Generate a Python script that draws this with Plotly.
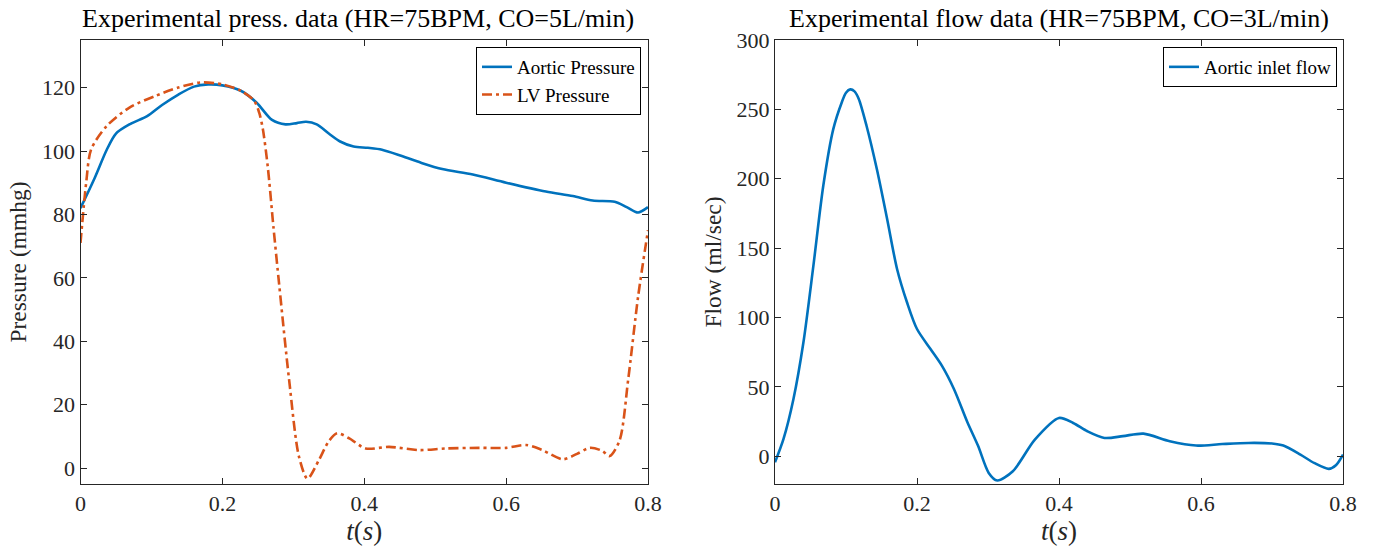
import plotly.graph_objects as go

# ── data ───────────────────────────────────────────────────────────────────────

t_aortic = [0.000, 0.020, 0.037, 0.050, 0.070, 0.094, 0.115, 0.138, 0.160, 0.180,
            0.200, 0.226, 0.248, 0.270, 0.289, 0.305, 0.318, 0.333, 0.350, 0.366,
            0.385, 0.405, 0.425, 0.453, 0.480, 0.510, 0.553, 0.600, 0.656, 0.694,
            0.722, 0.753, 0.770, 0.786, 0.800]
p_aortic = [82.0, 91.5, 100.4, 105.5, 108.5, 111.0, 114.5, 117.8, 120.3, 121.0,
            120.7, 119.0, 115.3, 109.8, 108.4, 108.8, 109.2, 108.4, 105.5, 103.0,
            101.4, 101.0, 100.4, 98.4, 96.3, 94.3, 92.6, 90.0, 87.2, 85.8,
            84.4, 84.0, 82.3, 80.6, 82.3]

t_lv = [0.000, 0.008, 0.015, 0.037, 0.069, 0.106, 0.138, 0.169, 0.200, 0.226,
        0.245, 0.252, 0.257, 0.264, 0.272, 0.280, 0.294, 0.308, 0.320, 0.336,
        0.350, 0.362, 0.379, 0.402, 0.435, 0.478, 0.515, 0.562, 0.600, 0.628,
        0.650, 0.680, 0.700, 0.718, 0.735, 0.746, 0.760, 0.772, 0.786, 0.800]
p_lv = [71.0, 90.0, 100.5, 107.9, 113.7, 117.4, 120.0, 121.6, 121.0, 119.0,
        115.8, 112.0, 107.0, 95.0, 76.0, 58.0, 28.0, 3.6, -3.3, 2.5,
        8.5, 11.0, 9.4, 6.2, 6.7, 5.7, 6.2, 6.4, 6.4, 7.3,
        5.8, 2.8, 4.5, 6.4, 5.5, 3.8, 8.8, 27.8, 54.0, 75.0]

t_flow = [0.000, 0.012, 0.026, 0.040, 0.054, 0.068, 0.082, 0.094, 0.100, 0.106,
          0.112, 0.118, 0.129, 0.1435, 0.158, 0.172, 0.186, 0.200, 0.219, 0.235,
          0.252, 0.271, 0.286, 0.301, 0.313, 0.335, 0.366, 0.400, 0.420, 0.440,
          0.464, 0.490, 0.519, 0.556, 0.593, 0.630, 0.667, 0.700, 0.716, 0.740,
          0.760, 0.780, 0.790, 0.800]
q_flow = [-4.3, 12.5, 41.3, 82.0, 137.0, 195.0, 235.6, 255.0, 262.0, 264.4,
          263.0, 257.5, 238.0, 206.8, 170.8, 134.8, 110.8, 91.7, 77.3, 65.3,
          48.5, 24.5, 7.5, -12.0, -17.5, -10.8, 12.0, 27.6, 24.0, 18.0,
          13.2, 14.5, 16.3, 10.8, 7.7, 8.8, 9.6, 9.2, 7.7, 1.2,
          -5.0, -9.1, -6.5, 1.2]

x_ticks = [0, 0.2, 0.4, 0.6, 0.8]
x_labels = ["0", "0.2", "0.4", "0.6", "0.8"]
p_ticks = [0, 20, 40, 60, 80, 100, 120]
q_ticks = [0, 50, 100, 150, 200, 250, 300]

# ── styling ────────────────────────────────────────────────────────────────────

W, H = 1373, 547
FONT = "Liberation Serif"
BLUE = "#0072BD"
ORANGE = "#D95319"
AX = "#262626"


def px_x(p):
    return p / W


def px_y(p):
    return 1 - p / H


fig = go.Figure()
fig.add_trace(go.Scatter(x=t_aortic, y=p_aortic, mode="lines", name="Aortic Pressure",
                         line=dict(color=BLUE, width=2.6, shape="spline", smoothing=0.8),
                         xaxis="x", yaxis="y", legend="legend"))
fig.add_trace(go.Scatter(x=t_lv, y=p_lv, mode="lines", name="LV Pressure",
                         line=dict(color=ORANGE, width=2.6, shape="spline", smoothing=0.8,
                                   dash="10px,4px,3px,4px"),
                         xaxis="x", yaxis="y", legend="legend"))
fig.add_trace(go.Scatter(x=t_flow, y=q_flow, mode="lines", name="Aortic inlet flow",
                         line=dict(color=BLUE, width=2.6, shape="spline", smoothing=0.8),
                         xaxis="x2", yaxis="y2", legend="legend2"))

axis_common = dict(
    showline=True, linecolor=AX, linewidth=1, mirror="allticks",
    ticks="inside", ticklen=6, tickcolor=AX, tickwidth=1,
    showgrid=False, zeroline=False, automargin=False,
    tickfont=dict(family=FONT, size=22, color=AX),
)
x_title = dict(text="<i>t</i>(<i>s</i>)", font=dict(size=27, color=AX), standoff=4)

fig.update_layout(
    width=W, height=H,
    margin=dict(l=0, r=0, t=0, b=0),
    paper_bgcolor="white", plot_bgcolor="white",
    font=dict(family=FONT, color="black"),
    xaxis=dict(domain=[px_x(80.5), px_x(648)], range=[0, 0.8],
               tickvals=x_ticks, ticktext=x_labels, anchor="y", title=x_title,
               **axis_common),
    yaxis=dict(domain=[px_y(484), px_y(40)], range=[-5, 135], tickvals=p_ticks, anchor="x",
               title=dict(text="Pressure (mmhg)", font=dict(size=23.5, color=AX), standoff=8),
               **axis_common),
    xaxis2=dict(domain=[px_x(775), px_x(1343)], range=[0, 0.8],
                tickvals=x_ticks, ticktext=x_labels, anchor="y2", title=x_title,
                **axis_common),
    yaxis2=dict(domain=[px_y(484), px_y(40)], range=[-20, 300], tickvals=q_ticks, anchor="x2",
                title=dict(text="Flow (ml/sec)", font=dict(size=23.5, color=AX), standoff=8),
                **axis_common),
    legend=dict(x=px_x(641), y=px_y(47), xanchor="right", yanchor="top",
                bgcolor="white", bordercolor="black", borderwidth=1,
                font=dict(family=FONT, size=19, color="black"), itemwidth=30,
                tracegroupgap=0),
    legend2=dict(x=px_x(1337), y=px_y(47), xanchor="right", yanchor="top",
                 bgcolor="white", bordercolor="black", borderwidth=1,
                 font=dict(family=FONT, size=19, color="black"), itemwidth=30),
    showlegend=True,
)

titles = [
    ("Experimental press. data (HR=75BPM, CO=5L/min)", 358),
    ("Experimental flow data (HR=75BPM, CO=3L/min)", 1059),
]
for text, cx in titles:
    fig.add_annotation(text=text, x=px_x(cx), y=px_y(19), xref="paper", yref="paper",
                       xanchor="center", yanchor="middle", showarrow=False,
                       font=dict(family=FONT, size=26, color="black"))

# drop the default 8px body margin so the figure fills the window exactly
fig.write_html("out.html", config={"displayModeBar": False},
               post_script="document.body.style.margin='0';")
